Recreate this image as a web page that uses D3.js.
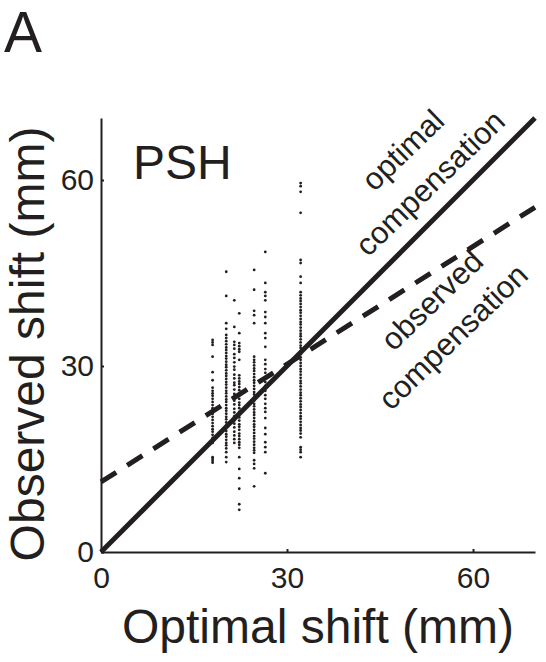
<!DOCTYPE html>
<html>
<head>
<meta charset="utf-8">
<script src="https://d3js.org/d3.v7.min.js"></script>
<style>
body { margin:0; background:#fff; }
svg text { font-family: "Liberation Sans", Arial, Helvetica, sans-serif; fill:#231f20; }
.axis path, .axis line { stroke:#231f20; stroke-width:2px; }
.axis text { font-size:30px; }
</style>
</head>
<body>
<script>
// optimal shift (mm) of each column of points
var columnX = [18, 20.2, 21.5, 22.3, 24.7, 26.5, 32.2];
// observed shift (mm) of the points in each column
var columnY = [
  [34.2, 33.8, 33.4, 31.5, 29.0, 27.7, 26.5, 26.0, 25.6, 25.2, 24.7, 24.2, 23.7, 23.2, 22.7, 22.3, 21.8, 21.3, 20.8, 20.3, 19.8, 19.4, 18.9, 18.4, 17.9, 17.6, 15.3, 15.0, 14.7, 14.4],
  [45.2, 41.3, 36.9, 36.0, 35.0, 34.5, 34.0, 33.5, 33.0, 32.6, 32.1, 31.6, 31.2, 30.7, 30.2, 29.8, 29.3, 28.8, 28.4, 27.9, 27.4, 27.0, 26.5, 26.0, 25.6, 25.1, 24.6, 24.2, 23.7, 23.2, 22.8, 22.3, 21.8, 21.4, 20.9, 20.4, 20.0, 19.5, 19.0, 18.6, 18.1, 17.6, 17.2, 16.7, 16.1, 15.3, 14.5],
  [40.6, 36.3, 33.9, 33.4, 32.8, 31.9, 31.3, 30.6, 29.9, 29.4, 28.6, 28.0, 27.3, 26.9, 26.2, 25.5, 25.0, 24.4, 23.8, 23.1, 22.5, 21.9, 21.2, 20.7, 20.1, 19.4, 18.8, 18.2, 17.6],
  [38.5, 35.3, 33.7, 33.2, 32.7, 32.3, 31.0, 28.5, 28.0, 27.5, 27.1, 26.6, 26.1, 25.6, 25.2, 24.7, 24.1, 23.7, 23.2, 22.6, 22.2, 21.7, 21.2, 20.6, 20.2, 19.7, 19.1, 18.7, 18.2, 17.7, 17.3, 16.8, 15.3, 13.4, 11.9, 10.2, 7.7, 6.8],
  [45.5, 42.3, 38.9, 38.2, 36.9, 31.5, 31.0, 30.6, 30.1, 29.6, 29.2, 28.7, 28.2, 27.7, 27.3, 26.8, 26.3, 25.8, 25.4, 24.9, 24.4, 23.9, 23.5, 23.0, 22.5, 22.1, 21.6, 21.1, 20.6, 20.2, 19.7, 19.2, 18.7, 18.3, 17.8, 17.3, 16.8, 16.4, 16.0, 14.8, 14.2, 13.5, 10.6],
  [48.4, 43.4, 41.9, 41.3, 40.6, 38.7, 37.9, 36.9, 35.3, 34.5, 33.1, 31.0, 30.3, 29.5, 28.9, 28.1, 27.4, 26.8, 26.0, 25.3, 24.7, 23.9, 23.2, 22.6, 21.6, 20.0, 19.0, 17.7, 16.9, 16.1, 12.7],
  [59.5, 59.0, 58.1, 54.7, 47.1, 46.6, 44.4, 43.4, 41.9, 41.4, 40.9, 40.5, 40.0, 39.5, 39.0, 38.6, 38.1, 37.6, 37.1, 36.7, 36.2, 35.7, 35.2, 34.8, 34.3, 33.8, 33.3, 32.9, 32.4, 31.9, 31.4, 31.0, 30.5, 30.0, 29.5, 29.1, 28.6, 28.1, 27.6, 27.2, 26.7, 26.2, 25.7, 25.3, 24.8, 24.3, 23.8, 23.4, 22.9, 22.4, 21.9, 21.5, 21.0, 20.5, 20.0, 19.6, 19.1, 18.5, 16.9, 16.5, 16.1, 15.3]
];
// lines: [x0, y0], [x1, y1]
var optimalLine = [[0, 0], [70, 70]];
var observedLine = [[0, 11.3], [70, 55.6]];
var tickValues = [0, 30, 60];

var svg = d3.select("body").append("svg")
    .attr("width", 546)
    .attr("height", 662);

var x = d3.scaleLinear().domain([0, 70]).range([101, 535]);
var y = d3.scaleLinear().domain([0, 70]).range([552, 118]);

svg.append("g")
    .attr("class", "axis")
    .attr("transform", "translate(0,552)")
    .call(d3.axisBottom(x).tickValues(tickValues).tickSizeInner(-3).tickSizeOuter(0).tickPadding(15))
    .call(function(g) { g.selectAll("text").attr("font-size", 30).attr("font-family", null); });

svg.append("g")
    .attr("class", "axis")
    .attr("transform", "translate(101,0)")
    .call(d3.axisLeft(y).tickValues(tickValues).tickSizeInner(-3).tickSizeOuter(0).tickPadding(7))
    .call(function(g) { g.selectAll("text").attr("font-size", 30).attr("font-family", null); });

var pts = [];
columnX.forEach(function(cx, i) {
  columnY[i].forEach(function(v) { pts.push([cx, v]); });
});

svg.append("g").selectAll("circle")
    .data(pts)
    .enter()
    .append("circle")
    .attr("cx", function(d) { return x(d[0]); })
    .attr("cy", function(d) { return y(d[1]); })
    .attr("r", 1.4)
    .attr("fill", "#231f20");

var line = d3.line()
    .x(function(d) { return x(d[0]); })
    .y(function(d) { return y(d[1]); });

svg.append("path")
    .attr("d", line(optimalLine))
    .attr("fill", "none")
    .attr("stroke", "#231f20")
    .attr("stroke-width", 5);

svg.append("path")
    .attr("d", line(observedLine))
    .attr("fill", "none")
    .attr("stroke", "#231f20")
    .attr("stroke-width", 5)
    .attr("stroke-dasharray", "18,13");

// line labels, placed in data units
var notes = [
  ["optimal", 48.7, 64.8],
  ["compensation", 53.1, 59.5],
  ["observed", 53.4, 40.6],
  ["compensation", 56.8, 34.7]
];
svg.selectAll(".note")
    .data(notes)
    .enter()
    .append("text")
    .attr("class", "note")
    .attr("text-anchor", "middle")
    .attr("dominant-baseline", "central")
    .attr("font-size", 31)
    .attr("transform", function(d) { return "translate(" + x(d[1]) + "," + y(d[2]) + ") rotate(-44)"; })
    .text(function(d) { return d[0]; });

svg.append("text")
    .attr("x", 133).attr("y", 179)
    .attr("font-size", 48)
    .text("PSH");

svg.append("text")
    .attr("x", 4).attr("y", 52)
    .attr("font-size", 57)
    .text("A");

svg.append("text")
    .attr("x", 318).attr("y", 643)
    .attr("text-anchor", "middle")
    .attr("font-size", 48)
    .text("Optimal shift (mm)");

svg.append("text")
    .attr("transform", "translate(44,344) rotate(-90)")
    .attr("text-anchor", "middle")
    .attr("font-size", 48)
    .text("Observed shift (mm)");
</script>
</body>
</html>
